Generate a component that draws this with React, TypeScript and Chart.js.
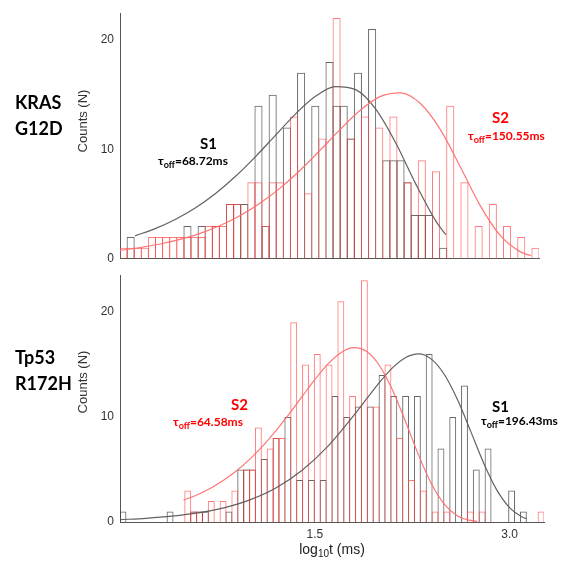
import React, { useEffect, useRef } from 'react';
import { Chart, registerables } from 'chart.js';

Chart.register(...registerables);

// ---------------- Top panel: KRAS G12D ----------------
const topXMin = 0.456;
const topXMax = 3.069;
const topYMax = 22.45;
// histogram counts per bin (59 bins)
const topS1Counts = [
  0, 2, 0, 0, 0, 0, 0, 0, 0, 3, 0, 3, 0, 3, 0, 5, 5, 5, 0, 14,
  3, 15, 0, 12, 0, 17, 0, 14, 0, 18, 14, 14, 11, 17, 0, 21, 0, 9, 9, 9,
  7, 4, 4, 4, 0, 1, 0, 0, 0, 0, 0, 0, 0, 0, 0, 0, 0, 0, 0,
];
const topS2Counts = [
  1, 1, 1, 1, 2, 2, 2, 2, 2, 2, 2, 2, 3, 3, 3, 5, 5, 0, 7, 7,
  3, 7, 7, 0, 13, 0, 6, 0, 11, 0, 22, 0, 11, 0, 13, 0, 12, 0, 13, 0,
  7, 0, 9, 0, 8, 0, 14, 0, 7, 0, 3, 0, 5, 0, 3, 0, 2, 0, 1,
];
const topS1FitX = [0.55, 0.675, 0.8, 0.925, 1.05, 1.175, 1.3, 1.425, 1.55, 1.675, 1.8, 1.925, 2.05, 2.175, 2.3, 2.425, 2.488];
const topS1FitY = [2.1, 2.76, 3.6, 4.65, 5.95, 7.52, 9.32, 11.28, 13.23, 14.85, 15.74, 15.46, 13.71, 10.61, 6.85, 3.47, 2.2];
const topS2FitX = [0.456, 0.581, 0.706, 0.831, 0.956, 1.081, 1.206, 1.331, 1.456, 1.581, 1.706, 1.831, 1.956, 2.081, 2.206, 2.331, 2.456, 2.581, 2.706, 2.831, 2.956, 3.019];
const topS2FitY = [0.77, 1.02, 1.35, 1.78, 2.33, 3.05, 3.96, 5.1, 6.48, 8.12, 9.95, 11.85, 13.6, 14.85, 15.17, 14.17, 11.76, 8.32, 4.77, 2.07, 0.61, 0.28];

// ---------------- Bottom panel: Tp53 R172H ----------------
const botXMin = 0;
const botXMax = 3.265;
const botYMax = 23.49;
// histogram counts per bin (72 bins)
const botS1Counts = [
  1, 0, 0, 0, 0, 0, 0, 0, 1, 0, 0, 0, 1, 1, 1, 0, 0, 0, 1, 0,
  5, 5, 5, 0, 6, 0, 8, 0, 10, 0, 4, 0, 4, 0, 4, 0, 12, 0, 10, 0,
  11, 0, 11, 0, 14, 0, 12, 0, 12, 0, 12, 0, 16, 0, 7, 0, 10, 0, 13, 0,
  5, 0, 7, 0, 0, 0, 3, 0, 1, 0, 0, 0,
];
const botS2Counts = [
  0, 0, 0, 0, 0, 0, 0, 0, 0, 0, 0, 3, 1, 1, 0, 2, 0, 2, 0, 3,
  0, 5, 5, 9, 0, 7, 8, 8, 0, 19, 0, 15, 0, 16, 0, 15, 0, 21, 0, 12,
  0, 23, 0, 11, 0, 15, 0, 8, 0, 4, 0, 3, 0, 1, 0, 1, 0, 0, 0, 1,
  0, 1, 0, 0, 0, 0, 0, 0, 0, 0, 0, 1,
];
const botS1FitX = [0.0, 0.2, 0.4, 0.6, 0.8, 1.0, 1.2, 1.4, 1.6, 1.8, 1.9, 2.0, 2.1, 2.2, 2.3, 2.4, 2.5, 2.6, 2.7, 2.8, 2.9, 3.0, 3.1, 3.13];
const botS1FitY = [0.22, 0.35, 0.55, 0.86, 1.35, 2.11, 3.24, 4.9, 7.2, 10.14, 11.74, 13.31, 14.69, 15.66, 16.0, 15.48, 13.99, 11.61, 8.65, 5.62, 3.08, 1.36, 0.46, 0.32];
const botS2FitX = [0.49, 0.6, 0.7, 0.8, 0.9, 1.0, 1.1, 1.2, 1.3, 1.4, 1.5, 1.6, 1.7, 1.8, 1.9, 2.0, 2.1, 2.2, 2.3, 2.4, 2.5, 2.6, 2.7, 2.75];
const botS2FitY = [2.08, 2.62, 3.24, 4.0, 4.91, 5.99, 7.24, 8.67, 10.24, 11.9, 13.54, 15.02, 16.12, 16.6, 16.22, 14.85, 12.52, 9.51, 6.34, 3.59, 1.65, 0.58, 0.15, 0.06];

const xTickValues = [1.5, 3.0];
const yTickValues = [0, 10, 20];

const RED_BAR = 'rgba(255, 70, 70, 0.72)';
const BLACK_BAR = 'rgba(60, 60, 60, 0.78)';
const RED_LINE = 'rgba(255, 110, 110, 0.95)';
const BLACK_LINE = 'rgba(90, 90, 90, 0.95)';
const AXIS = '#555555';
const TICK_FONT = { family: '"Liberation Sans", Arial, sans-serif', size: 12 };

type PanelSpec = {
  xMin: number;
  xMax: number;
  yMax: number;
  s1: number[];
  s2: number[];
  s1FitX: number[];
  s1FitY: number[];
  s2FitX: number[];
  s2FitY: number[];
  barPct: number;
  showXTicks: boolean;
  padding: { top: number; right: number; bottom: number; left: number };
  xAxisHeight: number;
};

function buildConfig(p: PanelSpec): any {
  const binW = (p.xMax - p.xMin) / p.s1.length;
  const centers = p.s1.map((_, i) => p.xMin + (i + 0.5) * binW);
  const barCommon = {
    type: 'bar',
    backgroundColor: 'rgba(0,0,0,0)',
    borderWidth: 1,
    borderSkipped: 'start',
    grouped: false,
    barPercentage: p.barPct,
    categoryPercentage: 1,
    inflateAmount: 0,
  };
  return {
    type: 'bar',
    data: {
      datasets: [
        {
          type: 'line',
          label: 'S2 fit',
          data: p.s2FitX.map((x, i) => ({ x, y: p.s2FitY[i] })),
          borderColor: RED_LINE,
          borderWidth: 1.2,
          pointRadius: 0,
          cubicInterpolationMode: 'monotone',
          fill: false,
          order: 0,
        },
        {
          type: 'line',
          label: 'S1 fit',
          data: p.s1FitX.map((x, i) => ({ x, y: p.s1FitY[i] })),
          borderColor: BLACK_LINE,
          borderWidth: 1.2,
          pointRadius: 0,
          cubicInterpolationMode: 'monotone',
          fill: false,
          order: 1,
        },
        {
          ...barCommon,
          label: 'S2',
          data: centers.map((x, i) => ({ x, y: p.s2[i] })),
          borderColor: RED_BAR,
          order: 2,
        },
        {
          ...barCommon,
          label: 'S1',
          data: centers.map((x, i) => ({ x, y: p.s1[i] })),
          borderColor: BLACK_BAR,
          order: 3,
        },
      ],
    },
    options: {
      responsive: false,
      animation: false,
      events: [],
      layout: { padding: p.padding },
      plugins: { legend: { display: false }, tooltip: { enabled: false } },
      scales: {
        x: {
          type: 'linear',
          min: p.xMin,
          max: p.xMax,
          offset: false,
          grid: { display: false, drawTicks: false },
          border: { display: true, color: AXIS, width: 1 },
          afterBuildTicks: (axis: any) => {
            axis.ticks = xTickValues.map((v) => ({ value: v }));
          },
          afterFit: (axis: any) => {
            axis.height = p.xAxisHeight;
          },
          ticks: {
            display: p.showXTicks,
            padding: 5,
            color: '#333',
            font: TICK_FONT,
            maxRotation: 0,
            autoSkip: false,
            callback: (v: any) => Number(v).toFixed(1),
          },
        },
        y: {
          type: 'linear',
          min: 0,
          max: p.yMax,
          grid: { display: false, drawTicks: false },
          border: { display: true, color: AXIS, width: 1 },
          afterBuildTicks: (axis: any) => {
            axis.ticks = yTickValues.map((v) => ({ value: v }));
          },
          afterFit: (axis: any) => {
            axis.width = 120;
          },
          ticks: {
            padding: 6,
            color: '#333',
            font: TICK_FONT,
            callback: (v: any) => String(v),
          },
        },
      },
    },
  };
}

function Panel(props: { spec: PanelSpec; top: number; height: number }) {
  const ref = useRef<HTMLCanvasElement | null>(null);
  useEffect(() => {
    if (!ref.current) return;
    const chart = new Chart(ref.current, buildConfig(props.spec));
    return () => chart.destroy();
  }, []);
  return (
    <canvas
      ref={ref}
      width={561}
      height={props.height}
      style={{ position: 'absolute', left: 0, top: props.top, width: 561, height: props.height }}
    />
  );
}

const topSpec: PanelSpec = {
  xMin: topXMin,
  xMax: topXMax,
  yMax: topYMax,
  s1: topS1Counts,
  s2: topS2Counts,
  s1FitX: topS1FitX,
  s1FitY: topS1FitY,
  s2FitX: topS2FitX,
  s2FitY: topS2FitY,
  barPct: 1.14,
  showXTicks: false,
  padding: { top: 10, right: 22, bottom: 5, left: 0 },
  xAxisHeight: 0,
};

const botSpec: PanelSpec = {
  xMin: botXMin,
  xMax: botXMax,
  yMax: botYMax,
  s1: botS1Counts,
  s2: botS2Counts,
  s1FitX: botS1FitX,
  s1FitY: botS1FitY,
  s2FitX: botS2FitX,
  s2FitY: botS2FitY,
  barPct: 1.17,
  showXTicks: true,
  padding: { top: 10, right: 17, bottom: 21, left: 0 },
  xAxisHeight: 22,
};

const labelFont = 'Lato, "Open Sans", sans-serif';

function Tau(props: { left: number; top: number; color: string; value: string }) {
  return (
    <div
      style={{
        position: 'absolute',
        left: props.left,
        top: props.top,
        color: props.color,
        font: `bold 12px ${labelFont}`,
        lineHeight: '12px',
        whiteSpace: 'nowrap',
      }}
    >
      τ<sub style={{ fontSize: 9, verticalAlign: -3, lineHeight: 0 }}>off</sub>={props.value}
    </div>
  );
}

function SLabel(props: { left: number; top: number; color: string; text: string }) {
  return (
    <div
      style={{
        position: 'absolute',
        left: props.left,
        top: props.top,
        color: props.color,
        font: `bold 15px ${labelFont}`,
        lineHeight: '15px',
        whiteSpace: 'nowrap',
      }}
    >
      {props.text}
    </div>
  );
}

function YTitle(props: { cx: number; cy: number }) {
  return (
    <div
      style={{
        position: 'absolute',
        left: props.cx,
        top: props.cy,
        transform: 'translate(-50%, -50%) rotate(-90deg)',
        font: '13px "Liberation Sans", Arial, sans-serif',
        color: '#333',
        whiteSpace: 'nowrap',
        lineHeight: '13px',
      }}
    >
      Counts (N)
    </div>
  );
}

function SideLabel(props: { top: number; lines: string[] }) {
  return (
    <div
      style={{
        position: 'absolute',
        left: 15,
        top: props.top,
        font: `bold 18px ${labelFont}`,
        lineHeight: '26px',
        color: '#000',
      }}
    >
      {props.lines.map((l) => (
        <div key={l}>{l}</div>
      ))}
    </div>
  );
}

export default function App() {
  return (
    <div
      style={{
        position: 'fixed',
        left: 0,
        top: 0,
        width: 561,
        height: 565,
        background: '#fff',
        overflow: 'hidden',
      }}
    >
      <Panel spec={topSpec} top={0} height={272} />
      <Panel spec={botSpec} top={262} height={303} />

      <SideLabel top={89} lines={['KRAS', 'G12D']} />
      <SideLabel top={344} lines={['Tp53', 'R172H']} />

      <YTitle cx={82} cy={121} />
      <YTitle cx={82} cy={382} />

      <SLabel left={200} top={136} color="#000" text="S1" />
      <Tau left={158} top={155} color="#000" value="68.72ms" />
      <SLabel left={492} top={110} color="#ff0000" text="S2" />
      <Tau left={468} top={130} color="#ff0000" value="150.55ms" />

      <SLabel left={231} top={397} color="#ff0000" text="S2" />
      <Tau left={173} top={416} color="#ff0000" value="64.58ms" />
      <SLabel left={492} top={399} color="#000" text="S1" />
      <Tau left={481} top={415} color="#000" value="196.43ms" />

      <div
        style={{
          position: 'absolute',
          left: 332,
          top: 542,
          transform: 'translateX(-50%)',
          font: '14px "Liberation Sans", Arial, sans-serif',
          color: '#222',
          whiteSpace: 'nowrap',
          lineHeight: '14px',
        }}
      >
        log<sub style={{ fontSize: 10, verticalAlign: -3, lineHeight: 0 }}>10</sub>t (ms)
      </div>
    </div>
  );
}
